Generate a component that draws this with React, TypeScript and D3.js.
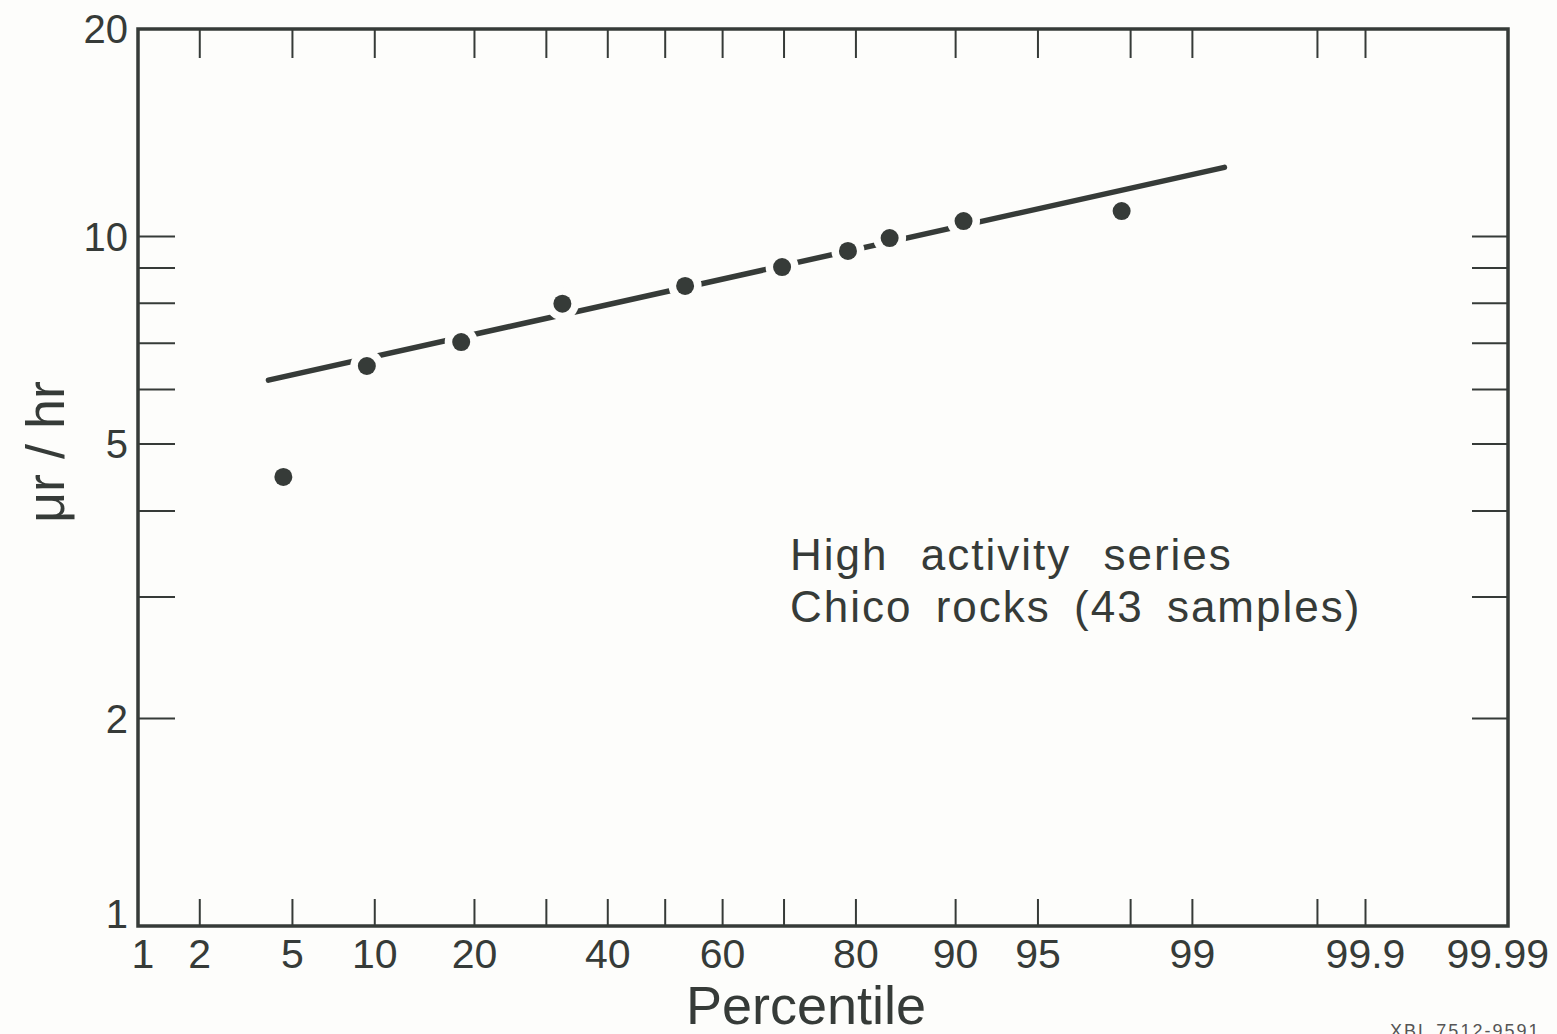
import React from "react";
import * as d3 from "d3";

// ---- data ----
const percentiles = [4.6, 9.4, 18.4, 32.5, 53.5, 69.7, 79.0, 83.9, 90.6, 97.8];
const doseRates = [4.48, 6.49, 7.03, 7.99, 8.48, 9.03, 9.53, 9.95, 10.53, 10.89];
const fitPercentiles = [4.0, 99.32];
const fitValues = [6.19, 12.6];

const xTickValues = [2, 5, 10, 20, 30, 40, 50, 60, 70, 80, 90, 95, 98, 99, 99.8, 99.9];
const xTickLabels = ["1", "2", "5", "10", "20", "40", "60", "80", "90", "95", "99", "99.9", "99.99"];
const yTickValues = [2, 3, 4, 5, 6, 7, 8, 9, 10];
const yTickLabels = ["1", "2", "5", "10", "20"];
const noteLines = ["High activity series", "Chico rocks (43 samples)"];

const W = 1557;
const H = 1034;
const INK = "#363b38";
const BG = "#fdfdfb";
const FONT = "'Liberation Sans', Arial, sans-serif";

// inverse normal CDF (Acklam)
function probit(p: number): number {
  const a = [-3.969683028665376e1, 2.209460984245205e2, -2.759285104469687e2, 1.38357751867269e2, -3.066479806614716e1, 2.506628277459239];
  const b = [-5.447609879822406e1, 1.615858368580409e2, -1.556989798598866e2, 6.680131188771972e1, -1.328068155288572e1];
  const c = [-7.784894002430293e-3, -3.223964580411365e-1, -2.400758277161838, -2.549732539343734, 4.374664141464968, 2.938163982698783];
  const d = [7.784695709041462e-3, 3.224671290700398e-1, 2.445134137142996, 3.754408661907416];
  const pl = 0.02425;
  let q, r;
  if (p < pl) {
    q = Math.sqrt(-2 * Math.log(p));
    return (((((c[0] * q + c[1]) * q + c[2]) * q + c[3]) * q + c[4]) * q + c[5]) / ((((d[0] * q + d[1]) * q + d[2]) * q + d[3]) * q + 1);
  } else if (p <= 1 - pl) {
    q = p - 0.5;
    r = q * q;
    return ((((((a[0] * r + a[1]) * r + a[2]) * r + a[3]) * r + a[4]) * r + a[5]) * q) / (((((b[0] * r + b[1]) * r + b[2]) * r + b[3]) * r + b[4]) * r + 1);
  } else {
    q = Math.sqrt(-2 * Math.log(1 - p));
    return -(((((c[0] * q + c[1]) * q + c[2]) * q + c[3]) * q + c[4]) * q + c[5]) / ((((d[0] * q + d[1]) * q + d[2]) * q + d[3]) * q + 1);
  }
}

const plot = { left: 138, right: 1508, top: 29, bottom: 926 };

const zScale = d3.scaleLinear().domain([probit(0.01), probit(0.9999)]).range([plot.left, plot.right]);
const x = (pct: number) => zScale(probit(pct / 100));
const y = d3.scaleLog().domain([1, 20]).range([plot.bottom, plot.top]);

export default function App() {
  const pts = percentiles.map((p, i) => ({ cx: x(p), cy: y(doseRates[i]) }));
  const lineData = fitPercentiles.map((p, i) => [x(p), y(fitValues[i])] as [number, number]);
  const linePath = d3.line()(lineData) || "";
  const [x0, y0] = lineData[0];
  const [x1, y1] = lineData[1];
  const len = Math.hypot(x1 - x0, y1 - y0);
  const distToLine = (px: number, py: number) =>
    Math.abs((y1 - y0) * px - (x1 - x0) * py + x1 * y0 - y1 * x0) / len;

  const labelWidth = (s: string, fs: number) =>
    s.split("").reduce((acc, ch) => acc + (ch === "." ? 0.278 : 0.556), 0) * fs;

  return (
    <svg width={W} height={H} style={{ position: "absolute", left: 0, top: 0, background: BG }}>
      <rect x={0} y={0} width={W} height={H} fill={BG} />
      {/* frame */}
      <rect
        x={plot.left}
        y={plot.top}
        width={plot.right - plot.left}
        height={plot.bottom - plot.top}
        fill="none"
        stroke={INK}
        strokeWidth={3.5}
      />
      {/* x ticks, bottom and top */}
      {xTickValues.map((v) => (
        <g key={"xt" + v} stroke={INK} strokeWidth={2}>
          <line x1={x(v)} x2={x(v)} y1={plot.bottom} y2={plot.bottom - 27} />
          <line x1={x(v)} x2={x(v)} y1={plot.top} y2={plot.top + 29} />
        </g>
      ))}
      {/* y ticks, left and right */}
      {yTickValues.map((v) => (
        <g key={"yt" + v} stroke={INK} strokeWidth={2}>
          <line x1={plot.left} x2={plot.left + 37} y1={y(v)} y2={y(v)} />
          <line x1={plot.right} x2={plot.right - 36} y1={y(v)} y2={y(v)} />
        </g>
      ))}
      {/* x tick labels */}
      {xTickLabels.map((s) => {
        const fs = 41;
        const w = labelWidth(s, fs);
        const cx = Math.max(Math.min(x(+s), W - 8 - w / 2), plot.left + 5);
        return (
          <text key={"xl" + s} x={cx} y={968} textAnchor="middle" fontFamily={FONT} fontSize={fs} fill={INK}>
            {s}
          </text>
        );
      })}
      {/* y tick labels */}
      {yTickLabels.map((s) => (
        <text
          key={"yl" + s}
          x={plot.left - 10}
          y={Math.min(y(+s), plot.bottom - 12)}
          dy="0.36em"
          textAnchor="end"
          fontFamily={FONT}
          fontSize={40}
          fill={INK}
        >
          {s}
        </text>
      ))}
      {/* axis titles */}
      <text x={806} y={1024} textAnchor="middle" fontFamily={FONT} fontSize={54} fill={INK}>
        Percentile
      </text>
      <text
        transform="translate(64,452) rotate(-90)"
        textAnchor="middle"
        fontFamily={FONT}
        fontSize={54}
        fill={INK}
      >
        μr / hr
      </text>
      {/* fitted line */}
      <path d={linePath} stroke={INK} strokeWidth={5.5} strokeLinecap="round" fill="none" />
      {/* gaps in the line around the points that lie on it */}
      {pts.map((p, i) =>
        distToLine(p.cx, p.cy) < 15 ? <circle key={"h" + i} cx={p.cx} cy={p.cy} r={16.5} fill={BG} /> : null
      )}
      {/* points */}
      {pts.map((p, i) => (
        <circle key={"p" + i} cx={p.cx} cy={p.cy} r={9} fill={INK} />
      ))}
      {/* annotation */}
      {noteLines.map((s, i) => (
        <text
          key={"n" + i}
          x={790}
          y={570 + i * 52}
          fontFamily={FONT}
          fontSize={44}
          fill={INK}
          letterSpacing={2}
          wordSpacing={i === 0 ? 18 : 9}
        >
          {s}
        </text>
      ))}
      <text x={1390} y={1037} fontFamily={FONT} fontSize={18} letterSpacing={2} fill="#555">
        XBL 7512-9591
      </text>
    </svg>
  );
}
